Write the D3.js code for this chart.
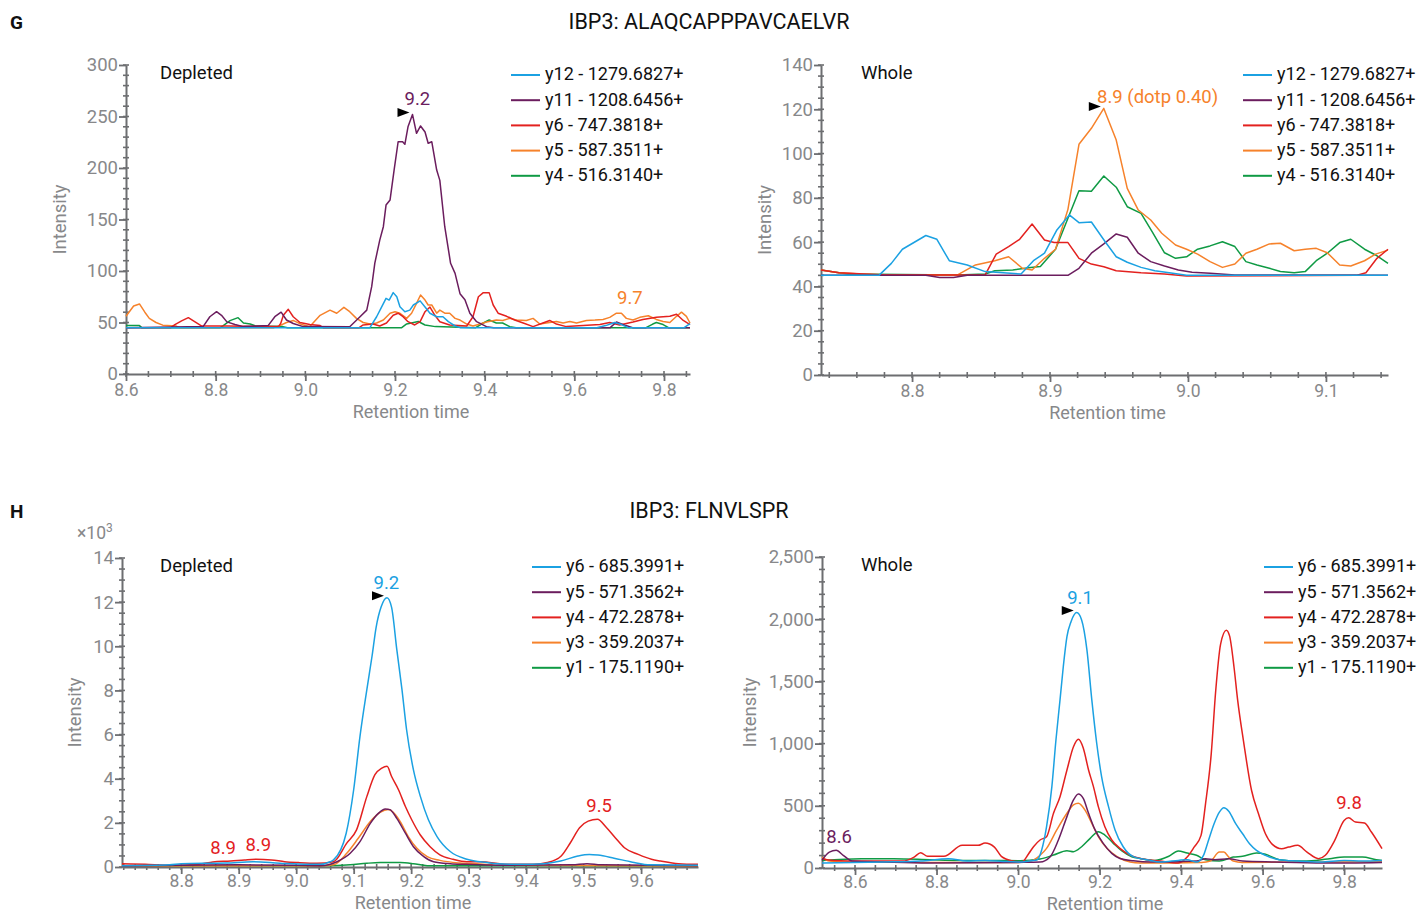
<!DOCTYPE html>
<html><head><meta charset="utf-8">
<script src="https://cdn.jsdelivr.net/npm/d3@7"></script>
<style>
body{margin:0;background:#fff;}
svg{font-family:Roboto,"Open Sans",sans-serif;}
</style></head><body>
<svg id="chart" width="1421" height="914"></svg>
<script>
// ---------- DATA ----------
const seriesColors = ["#1ba1e2","#6b1d5e","#e3211f","#f6822b","#0f9a44"];
const legendG = ["y12 - 1279.6827+","y11 - 1208.6456+","y6 - 747.3818+","y5 - 587.3511+","y4 - 516.3140+"];
const legendH = ["y6 - 685.3991+","y5 - 571.3562+","y4 - 472.2878+","y3 - 359.2037+","y1 - 175.1190+"];

// G, Depleted (retention time, intensity)
const gDepY12 = [[8.6,45],[9.144,45],[9.159,55.6],[9.17,65],[9.18,73.5],[9.187,71.8],[9.196,79],[9.204,75],[9.211,65.3],[9.222,60.5],[9.233,62],[9.241,67],[9.256,71],[9.267,65],[9.278,59],[9.293,55.6],[9.307,55.6],[9.319,50.8],[9.334,46.6],[9.345,45],[9.65,45],[9.67,47],[9.69,50],[9.705,48],[9.72,45],[9.845,45],[9.858,49]];
const gDepY11 = [[8.6,45],[8.772,46],[8.787,55.6],[8.802,60.5],[8.813,57],[8.825,50.6],[8.843,48],[8.862,46],[8.917,47],[8.932,55.6],[8.946,60],[8.958,52.4],[8.973,49],[8.995,46],[9.099,45.9],[9.122,55.6],[9.137,62],[9.148,84.8],[9.155,107.6],[9.166,130],[9.174,143],[9.18,164],[9.189,169],[9.198,198],[9.207,225.5],[9.217,225.5],[9.222,223],[9.229,240],[9.239,252],[9.248,233.7],[9.257,240.8],[9.267,235],[9.274,224],[9.282,225.5],[9.293,198],[9.3,188],[9.311,143],[9.324,107.5],[9.334,97.7],[9.345,78],[9.356,72],[9.367,59],[9.382,50.8],[9.404,46],[9.42,45],[9.68,45],[9.694,50.5],[9.715,47],[9.73,45],[9.858,45]];
const gDepY6 = [[8.6,45],[8.7,45],[8.709,48],[8.724,51.6],[8.739,54.7],[8.754,50.6],[8.769,46.5],[8.83,46.5],[8.94,46],[8.945,49],[8.951,57],[8.962,62.8],[8.973,55.6],[8.988,50],[9.01,48],[9.033,47],[9.04,45],[9.12,45],[9.129,47.6],[9.151,48.5],[9.166,46.6],[9.181,49.5],[9.196,57],[9.207,59],[9.218,55.6],[9.229,50.8],[9.244,47.6],[9.256,50.8],[9.267,60.5],[9.278,65],[9.289,57],[9.3,50.8],[9.322,47.6],[9.36,46.6],[9.374,55.6],[9.386,75],[9.397,79],[9.41,79],[9.419,67],[9.43,59],[9.449,56],[9.467,52.4],[9.486,49.5],[9.508,46],[9.53,49.5],[9.545,52],[9.56,48.5],[9.582,46],[9.657,48],[9.679,50],[9.701,47.6],[9.731,50.5],[9.753,53],[9.783,55],[9.813,56],[9.828,58],[9.843,52],[9.858,48]];
const gDepY5 = [[8.6,56],[8.617,66],[8.63,68],[8.642,60],[8.652,54],[8.667,50],[8.682,47.4],[8.712,46.5],[8.72,45],[8.93,45],[8.943,47],[8.958,50],[8.973,52],[8.992,48],[9.01,46],[9.033,57],[9.055,62],[9.07,59],[9.086,64.7],[9.099,60.5],[9.114,54],[9.129,50],[9.144,48.6],[9.159,49.5],[9.174,52.4],[9.189,59],[9.2,60.5],[9.211,59],[9.226,54],[9.237,59],[9.248,68.6],[9.257,76.7],[9.267,71.8],[9.274,67],[9.282,67],[9.293,59],[9.3,62],[9.311,59],[9.322,59],[9.334,54],[9.345,52.4],[9.36,48.5],[9.374,46.6],[9.382,47.6],[9.404,50.5],[9.426,52.4],[9.44,52],[9.456,54],[9.471,52.4],[9.493,52],[9.508,54],[9.523,48.5],[9.545,50],[9.56,51],[9.575,49.5],[9.59,51],[9.605,49.5],[9.627,52],[9.646,52.4],[9.664,53],[9.679,55],[9.694,59],[9.705,59],[9.716,54],[9.731,52.4],[9.746,55],[9.765,56.6],[9.783,53],[9.798,51],[9.813,50],[9.828,56],[9.839,60],[9.85,56],[9.858,49.5]];
const gDepY4 = [[8.6,47],[8.63,47],[8.635,45],[8.81,45],[8.817,47],[8.832,51.8],[8.85,54.7],[8.862,49.5],[8.877,48.5],[8.89,46.5],[8.95,46],[8.96,45],[9.215,45],[9.226,48.6],[9.252,51],[9.267,47.6],[9.29,46],[9.38,45],[9.397,49.5],[9.41,52.4],[9.426,49.5],[9.44,49.5],[9.456,46],[9.47,45],[9.76,45],[9.775,48.5],[9.783,50],[9.798,48],[9.81,45],[9.858,45]];

// G, Whole
const gWhoY12 = [[8.734,45],[8.776,45],[8.785,50.4],[8.793,56.8],[8.81,63],[8.818,61.3],[8.827,51.6],[8.84,49.7],[8.853,46.7],[8.866,46.2],[8.879,45.6],[8.888,51.6],[8.896,55],[8.905,65.5],[8.914,72.3],[8.921,68.8],[8.93,69.1],[8.94,60.2],[8.948,53.4],[8.956,50.9],[8.966,48.6],[8.976,47.1],[8.989,45.9],[8.999,45],[9.145,45]];
const gWhoY11 = [[8.734,45],[8.81,45],[8.82,44],[8.83,44],[8.84,45],[8.913,45],[8.921,48.2],[8.93,55],[8.939,59.2],[8.948,63.7],[8.956,62.2],[8.964,55],[8.973,51.2],[8.983,49.2],[8.993,47.4],[9.003,46.4],[9.016,45.9],[9.034,45.2],[9.145,45]];
const gWhoY6 = [[8.734,47.4],[8.747,46.2],[8.78,45.2],[8.853,45.2],[8.861,54.6],[8.87,58],[8.878,61.3],[8.887,68.2],[8.896,61],[8.903,59.8],[8.913,59.8],[8.921,52.7],[8.93,50.1],[8.939,48.9],[8.948,47.1],[8.966,46.2],[8.983,45.6],[8.999,44.7],[9.122,45],[9.129,46.2],[9.137,52.7],[9.145,56.8]];
const gWhoY5 = [[8.734,47.4],[8.747,46.2],[8.763,45.6],[8.785,45.2],[8.833,45.2],[8.846,49.7],[8.86,51.6],[8.87,53.4],[8.88,48.2],[8.887,47.4],[8.896,52.7],[8.904,56.8],[8.913,74.8],[8.921,104.2],[8.93,111.4],[8.939,120.4],[8.948,106.1],[8.956,84.3],[8.964,74.5],[8.973,70],[8.981,64],[8.991,58.7],[8.999,56.8],[9.007,54.6],[9.016,51.2],[9.025,48.6],[9.034,50.1],[9.042,55],[9.05,56.8],[9.059,59.2],[9.067,59.5],[9.077,56.1],[9.085,56.8],[9.093,57.2],[9.101,55.2],[9.11,49.7],[9.118,49.2],[9.128,51.6],[9.136,54.6],[9.145,56.4]];
const gWhoY4 = [[8.734,47.4],[8.753,45.6],[8.833,45.2],[8.853,45.6],[8.86,47.1],[8.873,47.4],[8.886,48.6],[8.893,49],[8.904,56.8],[8.913,70.8],[8.921,83.2],[8.93,83],[8.939,89.9],[8.948,84.8],[8.956,76],[8.966,73],[8.974,64.7],[8.983,55.2],[8.991,52.7],[8.999,53.4],[9.007,56.8],[9.016,58.3],[9.025,60.2],[9.034,58],[9.042,51.2],[9.05,49.7],[9.059,48.2],[9.067,46.7],[9.077,46.2],[9.085,46.7],[9.093,51.6],[9.101,55],[9.11,59.8],[9.118,61.3],[9.128,56.8],[9.136,54.2],[9.145,50.4]];

// H, Depleted (intensity in thousands)
const hDepY6 = [[8.697,0.06],[8.78,0.1],[8.8,0.15],[8.878,0.18],[8.925,0.24],[8.972,0.17],[9.02,0.12],[9.042,0.12],[9.059,0.24],[9.065,0.32],[9.087,1.53],[9.1,3.5],[9.111,5.92],[9.123,8.05],[9.132,9.56],[9.139,10.85],[9.148,11.8],[9.158,12.2],[9.166,11.76],[9.175,9.86],[9.184,8.05],[9.192,6.23],[9.204,4.4],[9.216,3.2],[9.23,2.14],[9.245,1.38],[9.268,0.7],[9.297,0.35],[9.332,0.2],[9.35,0.15],[9.39,0.12],[9.43,0.15],[9.46,0.27],[9.49,0.5],[9.51,0.57],[9.525,0.54],[9.553,0.4],[9.585,0.22],[9.616,0.1],[9.699,0.08]];
const hDepY5 = [[8.697,0.05],[8.8,0.08],[8.9,0.1],[9.0,0.08],[9.042,0.06],[9.071,0.24],[9.094,0.62],[9.111,1.15],[9.129,1.98],[9.143,2.43],[9.155,2.63],[9.163,2.6],[9.175,2.2],[9.19,1.53],[9.204,0.92],[9.222,0.47],[9.239,0.24],[9.268,0.15],[9.296,0.12],[9.35,0.08],[9.48,0.1],[9.506,0.15],[9.53,0.1],[9.699,0.06]];
const hDepY4 = [[8.697,0.15],[8.737,0.12],[8.784,0.08],[8.831,0.12],[8.855,0.23],[8.886,0.27],[8.91,0.32],[8.93,0.35],[8.957,0.32],[8.98,0.24],[9.004,0.2],[9.036,0.17],[9.065,0.24],[9.088,1.08],[9.105,1.68],[9.123,3.2],[9.137,4.18],[9.149,4.48],[9.158,4.56],[9.166,4.1],[9.178,3.5],[9.19,2.74],[9.201,2.14],[9.216,1.45],[9.233,0.92],[9.25,0.55],[9.273,0.35],[9.297,0.24],[9.32,0.24],[9.367,0.12],[9.414,0.12],[9.437,0.2],[9.461,0.5],[9.477,1.1],[9.493,1.78],[9.508,2.08],[9.524,2.16],[9.54,1.78],[9.555,1.33],[9.571,0.87],[9.595,0.57],[9.618,0.35],[9.634,0.27],[9.665,0.15],[9.699,0.12]];
const hDepY3 = [[8.697,0.05],[9.044,0.06],[9.065,0.1],[9.088,0.62],[9.108,1.3],[9.129,2.06],[9.146,2.47],[9.16,2.6],[9.168,2.5],[9.181,2.06],[9.195,1.38],[9.21,0.85],[9.228,0.47],[9.25,0.3],[9.285,0.18],[9.32,0.14],[9.35,0.08],[9.699,0.05]];
const hDepY1 = [[8.697,0.05],[9.05,0.06],[9.094,0.1],[9.123,0.17],[9.146,0.2],[9.181,0.2],[9.204,0.15],[9.228,0.06],[9.699,0.05]];

// H, Whole
const hWhoY6 = [[8.519,40],[8.671,48],[8.761,56],[8.829,75],[8.874,56],[8.919,61],[8.964,53],[9.009,48],[9.032,58],[9.046,64],[9.058,145],[9.07,332],[9.083,654],[9.093,1029],[9.103,1351],[9.111,1618],[9.12,1860],[9.13,1980],[9.144,2053],[9.156,1994],[9.169,1753],[9.181,1351],[9.193,1003],[9.205,734],[9.222,493],[9.238,306],[9.258,171],[9.283,91],[9.32,64],[9.348,48],[9.393,61],[9.415,67],[9.438,48],[9.455,102],[9.466,209],[9.481,356],[9.494,449],[9.505,484],[9.517,457],[9.534,356],[9.551,275],[9.568,195],[9.585,142],[9.607,102],[9.641,67],[9.686,56],[9.742,48],[9.8,61],[9.845,56],[9.893,61]];
const hWhoY5 = [[8.519,61],[8.537,128],[8.554,142],[8.571,102],[8.593,56],[8.67,48],[8.78,40],[9.0,45],[9.054,48],[9.079,91],[9.099,225],[9.12,413],[9.136,547],[9.148,595],[9.16,560],[9.173,440],[9.189,306],[9.209,198],[9.23,118],[9.25,77],[9.283,58],[9.325,48],[9.438,56],[9.46,75],[9.483,67],[9.517,75],[9.551,56],[9.63,48],[9.75,40],[9.893,45]];
const hWhoY4 = [[8.519,75],[8.548,61],[8.616,56],[8.717,56],[8.745,88],[8.761,123],[8.778,94],[8.818,94],[8.863,182],[8.902,182],[8.919,200],[8.942,168],[8.959,94],[8.987,56],[9.009,48],[9.026,115],[9.038,171],[9.054,225],[9.07,252],[9.087,440],[9.103,573],[9.12,788],[9.136,975],[9.148,1035],[9.16,965],[9.173,788],[9.185,654],[9.197,493],[9.213,332],[9.23,225],[9.25,158],[9.275,104],[9.3,77],[9.348,56],[9.393,40],[9.415,88],[9.432,168],[9.449,262],[9.46,516],[9.474,917],[9.485,1425],[9.497,1800],[9.511,1912],[9.519,1866],[9.53,1612],[9.539,1345],[9.553,1024],[9.573,623],[9.59,436],[9.607,275],[9.624,190],[9.647,155],[9.664,168],[9.686,182],[9.709,128],[9.737,75],[9.754,102],[9.777,222],[9.8,382],[9.811,404],[9.828,369],[9.85,361],[9.867,289],[9.893,155]];
const hWhoY3 = [[8.519,88],[8.537,56],[8.57,48],[8.8,45],[9.0,45],[9.032,56],[9.054,102],[9.07,158],[9.095,306],[9.12,440],[9.136,507],[9.148,520],[9.164,467],[9.181,359],[9.197,252],[9.218,158],[9.243,91],[9.275,48],[9.3,40],[9.45,45],[9.472,56],[9.494,128],[9.505,128],[9.517,88],[9.528,56],[9.55,45],[9.893,50]];
const hWhoY1 = [[8.519,61],[8.616,75],[8.695,75],[8.784,67],[8.852,61],[8.942,61],[9.005,58],[9.054,72],[9.087,104],[9.12,139],[9.136,131],[9.156,171],[9.177,238],[9.197,292],[9.213,265],[9.234,198],[9.254,139],[9.279,91],[9.3,77],[9.336,61],[9.37,94],[9.393,136],[9.415,120],[9.438,102],[9.46,67],[9.494,56],[9.528,88],[9.551,94],[9.585,120],[9.607,110],[9.641,67],[9.686,56],[9.731,61],[9.765,75],[9.8,88],[9.845,88],[9.879,67],[9.893,61]];

// peak annotations: [text, rt, intensity, series index]
const gDepNotes = [["9.2",9.25,267,1],["9.7",9.724,73.8,3]];
const gWhoNotes = [["8.9 (dotp 0.40)",8.978,125.6,3]];
const hDepNotes = [["9.2",9.157,12.9,0],["8.9",8.873,0.86,2],["8.9",8.934,1.0,2],["9.5",9.527,2.77,2]];
const hWhoNotes = [["9.1",9.152,2171,0],["8.6",8.561,257,1],["9.8",9.812,523,2]];

// tick values
const gDepXTicks = [8.6,8.8,9.0,9.2,9.4,9.6,9.8];
const gDepYTicks = [0,50,100,150,200,250,300];
const gWhoXTicks = [8.8,8.9,9.0,9.1];
const gWhoYTicks = [0,20,40,60,80,100,120,140];
const hDepXTicks = [8.8,8.9,9.0,9.1,9.2,9.3,9.4,9.5,9.6];
const hDepYTicks = [0,2,4,6,8,10,12,14];
const hWhoXTicks = [8.6,8.8,9.0,9.2,9.4,9.6,9.8];
const hWhoYTicks = [0,500,1000,1500,2000,2500];

// ---------- DRAWING ----------
const svg = d3.select("#chart");
const axisColor = "#6d6e71", tickText = "#87888a";

function stepRange(lo, hi, step){
  const a = Math.ceil(lo/step - 1e-6), b = Math.floor(hi/step + 1e-6);
  return d3.range(a, b+1).map(i => +(i*step).toFixed(4));
}

function panel(o){
  const x = d3.scaleLinear().domain(o.xDomain).range([o.left, o.right]);
  const y = d3.scaleLinear().domain(o.yDomain).range([o.bottom, o.top]);
  const g = svg.append("g");

  // minor ticks (crossing the axis)
  g.selectAll(null).data(stepRange(o.xDomain[0], o.xDomain[1], o.xMinor)).join("line")
    .attr("x1", d=>x(d)).attr("x2", d=>x(d)).attr("y1", o.bottom-3).attr("y2", o.bottom+3)
    .attr("stroke", axisColor).attr("stroke-width", 1.6);
  g.selectAll(null).data(stepRange(o.yDomain[0], o.yDomain[1], o.yMinor)).join("line")
    .attr("x1", o.left-3).attr("x2", o.left+3).attr("y1", d=>y(d)).attr("y2", d=>y(d))
    .attr("stroke", axisColor).attr("stroke-width", 1.6);

  const xa = g.append("g").attr("transform", `translate(0,${o.bottom})`)
    .call(d3.axisBottom(x).tickValues(o.xTicks).tickFormat(d3.format(".1f")).tickSize(7).tickSizeOuter(0).tickPadding(o.xPad));
  const ya = g.append("g").attr("transform", `translate(${o.left},0)`)
    .call(d3.axisLeft(y).tickValues(o.yTicks).tickFormat(o.yFmt).tickSize(7).tickSizeOuter(0).tickPadding(1));
  [xa, ya].forEach(a => {
    a.select(".domain").attr("stroke", axisColor).attr("stroke-width", 2);
    a.selectAll(".tick line").attr("stroke", axisColor).attr("stroke-width", 1.8);
    a.selectAll(".tick text").attr("fill", tickText).attr("font-family", "Roboto");
  });
  xa.selectAll(".tick text").attr("font-size", 17.5);
  ya.selectAll(".tick text").attr("font-size", 18.5);

  // axis titles
  g.append("text").attr("x", (o.left+o.right)/2 + 3).attr("y", o.bottom + o.xlabDy)
    .attr("text-anchor", "middle").attr("fill", tickText).attr("font-size", 18).text("Retention time");
  g.append("text").attr("transform", `translate(${o.ylabX},${(o.top+o.bottom)/2}) rotate(-90)`)
    .attr("text-anchor", "middle").attr("dy", "0.35em").attr("fill", tickText).attr("font-size", 18.5).text("Intensity");

  // panel name
  g.append("text").attr("x", o.nameX).attr("y", o.top + 8).attr("dy", "0.35em")
    .attr("fill", "#111").attr("font-size", 18.5).text(o.name);

  // lines (drawn in reverse legend order so first legend item is on top)
  const line = d3.line().x(d=>x(d[0])).y(d=>y(d[1])).curve(o.curve);
  for (let i = o.series.length-1; i >= 0; i--){
    g.append("path").datum(o.series[i]).attr("d", line)
      .attr("fill", "none").attr("stroke", seriesColors[i]).attr("stroke-width", 1.5)
      .attr("stroke-linejoin", "round");
  }

  // peak marker (black triangle left of the apex of the chosen series)
  const pk = d3.greatest(o.series[o.peakIdx], d => d[1]);
  const tx = x(pk[0]) - 3, ty = y(pk[1]) - 2;
  g.append("path").attr("d", `M${tx},${ty} L${tx-12},${ty-4.5} L${tx-12},${ty+4.5} Z`).attr("fill", "#000");

  // annotations
  g.selectAll(null).data(o.notes).join("text")
    .attr("x", d=>x(d[1])).attr("y", d=>y(d[2])).attr("dy", "0.35em")
    .attr("text-anchor", "middle").attr("fill", d=>seriesColors[d[3]]).attr("font-size", 18.5)
    .text(d=>d[0]);

  // legend
  const lg = g.selectAll(null).data(o.legend).join("g")
    .attr("transform", (d,i)=>`translate(${o.legX},${o.legY + i*25.2})`);
  lg.append("line").attr("x1", 0).attr("x2", 29).attr("y1", 1).attr("y2", 1)
    .attr("stroke", (d,i)=>seriesColors[i]).attr("stroke-width", 2);
  lg.append("text").attr("x", 34).attr("dy", "0.35em").attr("fill", "#111").attr("font-size", 18).text(d=>d);
  return {x, y};
}

// headers
svg.append("text").attr("x", 10).attr("y", 29).attr("font-weight", "bold").attr("font-size", 19).attr("fill", "#111").text("G");
svg.append("text").attr("x", 709).attr("y", 29).attr("text-anchor", "middle").attr("font-size", 21.5).attr("fill", "#111").text("IBP3: ALAQCAPPPAVCAELVR");
svg.append("text").attr("x", 10).attr("y", 518).attr("font-weight", "bold").attr("font-size", 19).attr("fill", "#111").text("H");
svg.append("text").attr("x", 709).attr("y", 518).attr("text-anchor", "middle").attr("font-size", 21.5).attr("fill", "#111").text("IBP3: FLNVLSPR");

panel({left:126, right:690, top:65, bottom:374, xDomain:[8.6,9.858], yDomain:[0,300],
  xTicks:gDepXTicks, yTicks:gDepYTicks, xMinor:0.05, yMinor:10, yFmt:d3.format("d"), xPad:3,
  series:[gDepY12,gDepY11,gDepY6,gDepY5,gDepY4], legend:legendG, notes:gDepNotes, peakIdx:1,
  name:"Depleted", nameX:160, legX:511, legY:74, ylabX:60, xlabDy:44, curve:d3.curveLinear});
panel({left:821, right:1388, top:65, bottom:375, xDomain:[8.734,9.145], yDomain:[0,140],
  xTicks:gWhoXTicks, yTicks:gWhoYTicks, xMinor:0.02, yMinor:5, yFmt:d3.format("d"), xPad:3,
  series:[gWhoY12,gWhoY11,gWhoY6,gWhoY5,gWhoY4], legend:legendG, notes:gWhoNotes, peakIdx:3,
  name:"Whole", nameX:861, legX:1243, legY:74, ylabX:765, xlabDy:44, curve:d3.curveLinear});
panel({left:122, right:698, top:558, bottom:867, xDomain:[8.697,9.699], yDomain:[0,14],
  xTicks:hDepXTicks, yTicks:hDepYTicks, xMinor:0.02, yMinor:0.5, yFmt:d3.format("d"), xPad:1,
  series:[hDepY6,hDepY5,hDepY4,hDepY3,hDepY1], legend:legendH, notes:hDepNotes, peakIdx:0,
  name:"Depleted", nameX:160, legX:532, legY:566, ylabX:75, xlabDy:42, curve:d3.curveMonotoneX});
panel({left:822, right:1382, top:557, bottom:868, xDomain:[8.519,9.893], yDomain:[0,2500],
  xTicks:hWhoXTicks, yTicks:hWhoYTicks, xMinor:0.05, yMinor:100, yFmt:d3.format(","), xPad:1,
  series:[hWhoY6,hWhoY5,hWhoY4,hWhoY3,hWhoY1], legend:legendH, notes:hWhoNotes, peakIdx:0,
  name:"Whole", nameX:861, legX:1264, legY:566, ylabX:750, xlabDy:41.5, curve:d3.curveMonotoneX});

// x10^3 multiplier
const mult = svg.append("text").attr("x", 77).attr("y", 539).attr("fill", tickText).attr("font-size", 17.5);
mult.append("tspan").text("×10");
mult.append("tspan").attr("dy", -7).attr("font-size", 12).text("3");
</script>
</body></html>
